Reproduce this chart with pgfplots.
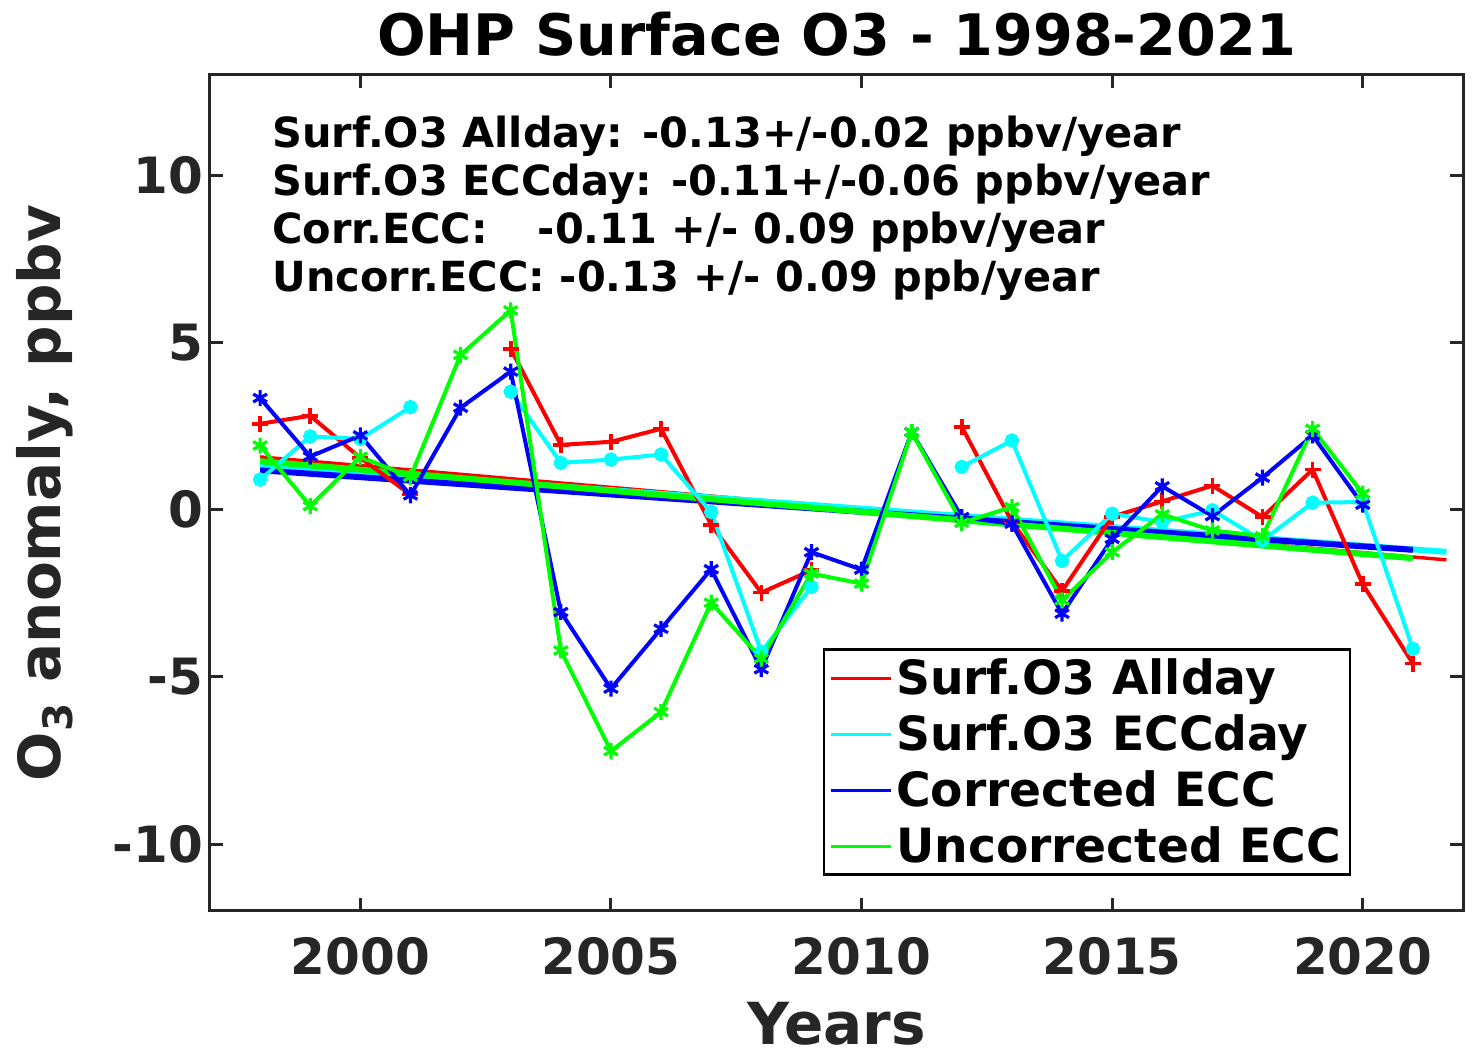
\documentclass[border=0pt]{standalone}
\usepackage{fontspec}
\setmainfont{DejaVu Sans}
\usepackage{pgfplots}
\pgfplotsset{compat=1.18}

\definecolor{axgray}{RGB}{38,38,38}
\definecolor{mred}{RGB}{255,0,0}
\definecolor{mcyan}{RGB}{0,255,255}
\definecolor{mblue}{RGB}{0,0,255}
\definecolor{mgreen}{RGB}{0,255,0}

\begin{document}
\begin{tikzpicture}[x=1pt,y=1pt]
    \useasboundingbox (-105,-74) rectangle (635,455.5);
    \begin{axis}[
        at={(0,0)}, anchor=south west,
        width=626.5pt, height=418pt, scale only axis,
        xmin=1997, xmax=2022,
        ymin=-12, ymax=13,
        xtick={2000,2005,...,2020},
        ytick={-10,-5,0,5,10},
        unbounded coords=jump,
        /pgf/number format/assume math mode=true,
        /pgf/number format/1000 sep={},
        tick align=inside,
        major tick length=6.5pt,
        axis line style={axgray, line width=1.5pt},
        every tick/.style={axgray, line width=1.5pt},
        tick label style={font=\bfseries\fontsize{25}{25}\selectfont, text=axgray},
        xticklabel style={yshift=-9.5pt},
        title={OHP Surface O3 - 1998-2021},
        title style={font=\bfseries\fontsize{28.6}{29}\selectfont, at={(axis description cs:0.5,1.0095)}, anchor=base},
        xlabel={Years},
        xlabel style={font=\bfseries\fontsize{29}{29}\selectfont, text=axgray, at={(axis description cs:0.5,-0.1603)}, anchor=base},
        ylabel={O$_{\mathbf{3}}$ anomaly, ppbv},
        ylabel style={font=\bfseries\fontsize{29}{29}\selectfont, text=axgray, at={(axis description cs:-0.1197,0.5)}, anchor=base, rotate=0},
        legend style={at={(0.911,0.042)}, anchor=south east, draw=black, line width=1.2pt,
            font=\bfseries\fontsize{23.6}{23.6}\selectfont, row sep=4.6pt, inner sep=2.5pt},
        legend cell align=left,
        legend image code/.code={\draw[#1] (0pt,0pt) -- (30pt,0pt);},
    ]
        \addlegendimage{mred, line width=1.5pt}
        \addlegendentry{Surf.O3 Allday}
        \addlegendimage{mcyan, line width=1.5pt}
        \addlegendentry{Surf.O3 ECCday}
        \addlegendimage{mblue, line width=1.5pt}
        \addlegendentry{Corrected ECC}
        \addlegendimage{mgreen, line width=1.5pt}
        \addlegendentry{Uncorrected ECC}

        % trend lines
        \addplot[mred, line width=1.7pt, forget plot] coordinates {(1998,1.58) (2021.67,-1.50)};
        \addplot[mcyan, line width=3pt, forget plot] coordinates {(1998,1.36) (2021.67,-1.26)};
        \addplot[mblue, line width=3pt, forget plot] coordinates {(1998,1.18) (2021,-1.20)};
        \addplot[mgreen, line width=3pt, forget plot] coordinates {(1998,1.45) (2021,-1.45)};

        % Surf.O3 Allday
        \addplot[mred, line width=2pt, mark=+, mark size=4pt, mark options={line width=1.8pt}, forget plot] coordinates {
            (1998,2.57) (1999,2.81) (2000,1.55) (2001,0.45) (2002,nan)
            (2003,4.81) (2004,1.94) (2005,2.03) (2006,2.42) (2007,-0.45)
            (2008,-2.48) (2009,-1.81) (2010,nan) (2011,nan) (2012,2.48)
            (2013,-0.36) (2014,-2.43) (2015,-0.21) (2016,0.25) (2017,0.72)
            (2018,-0.22) (2019,1.20) (2020,-2.23) (2021,-4.60)
        };
        % Surf.O3 ECCday
        \addplot[mcyan, line width=2pt, mark=*, mark size=2.6pt, forget plot] coordinates {
            (1998,0.90) (1999,2.19) (2000,2.12) (2001,3.07) (2002,nan)
            (2003,3.53) (2004,1.40) (2005,1.50) (2006,1.65) (2007,-0.07)
            (2008,-4.25) (2009,-2.31) (2010,nan) (2011,nan) (2012,1.28)
            (2013,2.07) (2014,-1.53) (2015,-0.12) (2016,-0.37) (2017,-0.02)
            (2018,-0.92) (2019,0.21) (2020,0.23) (2021,-4.16)
        };
        % Corrected ECC
        \addplot[mblue, line width=2pt, mark=asterisk, mark size=4pt, mark options={line width=1.6pt}, forget plot] coordinates {
            (1998,3.34) (1999,1.59) (2000,2.22) (2001,0.43) (2002,3.05)
            (2003,4.13) (2004,-3.06) (2005,-5.35) (2006,-3.56) (2007,-1.78)
            (2008,-4.77) (2009,-1.27) (2010,-1.79) (2011,2.32) (2012,-0.22)
            (2013,-0.42) (2014,-3.11) (2015,-0.87) (2016,0.70) (2017,-0.19)
            (2018,0.96) (2019,2.22) (2020,0.15)
        };
        % Uncorrected ECC
        \addplot[mgreen, line width=2pt, mark=asterisk, mark size=4pt, mark options={line width=1.6pt}, forget plot] coordinates {
            (1998,1.92) (1999,0.11) (2000,1.58) (2001,0.98) (2002,4.63)
            (2003,5.96) (2004,-4.21) (2005,-7.22) (2006,-6.05) (2007,-2.78)
            (2008,-4.45) (2009,-1.91) (2010,-2.21) (2011,2.32) (2012,-0.39)
            (2013,0.08) (2014,-2.71) (2015,-1.27) (2016,-0.14) (2017,-0.62)
            (2018,-0.79) (2019,2.42) (2020,0.48)
        };

        \node[anchor=north west, align=left, inner sep=0pt,
              font=\bfseries\fontsize{20.75}{24}\selectfont]
            at (rel axis cs:0.0495,0.952)
            {Surf.O3 Allday: -0.13+/-0.02 ppbv/year\\
             Surf.O3 ECCday: -0.11+/-0.06 ppbv/year\\
             Corr.ECC:\hspace{1.2em}-0.11 +/- 0.09 ppbv/year\\
             Uncorr.ECC: -0.13 +/- 0.09 ppb/year};
    \end{axis}
\end{tikzpicture}
\end{document}
